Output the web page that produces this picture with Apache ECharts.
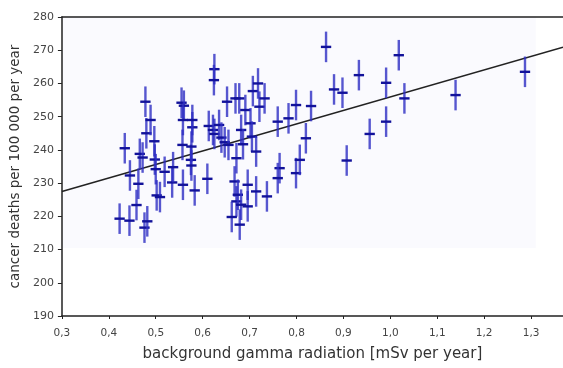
<!DOCTYPE html>
<html><head><meta charset="utf-8">
<script src="https://cdn.jsdelivr.net/npm/echarts@6/dist/echarts.min.js"></script>
<style>html,body{margin:0;padding:0;background:#fff}#c{width:563px;height:368px}</style>
</head><body><div id="c"></div>
<script>
// radiation dose (mSv per year)
const doseX = [0.423,0.444,0.434,0.445,0.463,0.459,0.466,0.472,0.478,0.480,0.489,0.476,0.482,0.497,0.498,0.500,0.502,0.509,0.519,0.535,0.537,0.555,0.560,0.558,0.557,0.558,0.575,0.576,0.578,0.578,0.583,0.576,0.610,0.613,0.622,0.625,0.625,0.624,0.635,0.640,0.647,0.652,0.655,0.670,0.672,0.668,0.672,0.662,0.679,0.678,0.682,0.686,0.691,0.702,0.705,0.714,0.707,0.718,0.721,0.732,0.696,0.714,0.737,0.675,0.682,0.696,0.760,0.783,0.799,0.764,0.760,0.799,0.807,0.820,0.831,0.863,0.880,0.898,0.907,0.933,0.956,0.991,0.991,1.018,1.030,1.139,1.287];
// cancer deaths per 100 000 per year
const deathsY = [219.3,218.7,240.5,232.3,229.8,223.4,238.8,237.7,254.5,245,249,216.6,218.5,242.6,237.1,234.2,226.3,225.8,233.4,230.2,234.8,254.2,253.3,249,241.5,229.5,237,235.3,246.8,249,227.8,241,231.3,247.2,246,244.8,264.3,261,247.5,243.7,242.3,254.5,241.5,255.5,237.5,230.5,224.5,219.8,217.5,255.5,246,241.7,252,248,244,239.5,257.7,260,253,255.5,229.5,227.5,226,226.5,223.5,223,248.5,249.5,253.5,234.5,231.5,233,237,243.5,253.2,271,258.2,257.2,236.8,262.5,244.8,260.2,248.5,268.5,255.5,256.5,263.5];
const errX = 0.011;
const errY = 4.6;
// regression line endpoints
const fitX = [0.3, 1.368];
const fitY = [227.5, 270.9];
const xTicks = ['0,3','0,4','0,5','0,6','0,7','0,8','0,9','1,0','1,1','1,2','1,3'];

const pts = doseX.map((x,i)=>[x, deathsY[i]]);
const chart = echarts.init(document.getElementById('c'));
const font = 'DejaVu Sans, sans-serif';
chart.setOption({
  animation:false,
  grid:{left:60,right:0,top:17,bottom:52},
  xAxis:[{
    type:'value',min:0.3,max:1.368,interval:0.1,z:10,
    axisLine:{show:true,lineStyle:{color:'#222',width:1.5}},
    axisTick:{show:true,length:3,lineStyle:{color:'#222'}},
    splitLine:{show:false},
    axisLabel:{margin:12,color:'#444',fontFamily:font,fontSize:10.5,showMaxLabel:false,
      formatter:v=>{const i=Math.round((v-0.3)*10);return xTicks[i]||'';}},
    name:'background gamma radiation [mSv per year]',nameLocation:'middle',nameGap:31,
    nameTextStyle:{color:'#333',fontFamily:font,fontSize:15}
  },{
    type:'value',position:'top',min:0.3,max:1.368,z:10,
    axisLine:{show:true,lineStyle:{color:'#222',width:1.5}},
    axisTick:{show:false},axisLabel:{show:false},splitLine:{show:false}
  }],
  yAxis:{
    type:'value',min:190,max:280,interval:10,z:10,
    axisLine:{show:true,lineStyle:{color:'#222',width:1.5}},
    axisTick:{show:true,length:4,lineStyle:{color:'#222'}},
    splitLine:{show:false},
    axisLabel:{margin:8,color:'#444',fontFamily:font,fontSize:11},
    name:'cancer deaths per 100 000 per year',nameLocation:'middle',nameGap:36,
    nameTextStyle:{color:'#333',fontFamily:font,fontSize:13.5}
  },
  series:[{
    type:'line',data:[[fitX[0],fitY[0]],[fitX[1],fitY[1]]],showSymbol:false,
    lineStyle:{color:'#222',width:1.6},z:3,
    markArea:{silent:true,itemStyle:{color:'#fafafe'},data:[[{coord:[0.3,210.5]},{coord:[1.31,280]}]]}
  },{
    type:'custom',data:pts,z:4,
    renderItem:(params,api)=>{
      const x=api.value(0), y=api.value(1);
      const t=api.coord([x,y+errY]), b=api.coord([x,y-errY]);
      const l=api.coord([x-errX,y]), r=api.coord([x+errX,y]);
      return {type:'group',children:[
        {type:'line',shape:{x1:t[0],y1:t[1],x2:b[0],y2:b[1]},style:{stroke:'rgba(45,45,195,0.8)',lineWidth:2.4}},
        {type:'line',shape:{x1:l[0],y1:l[1],x2:r[0],y2:r[1]},style:{stroke:'#12129a',lineWidth:2.4}}
      ]};
    }
  }]
});
</script></body></html>
